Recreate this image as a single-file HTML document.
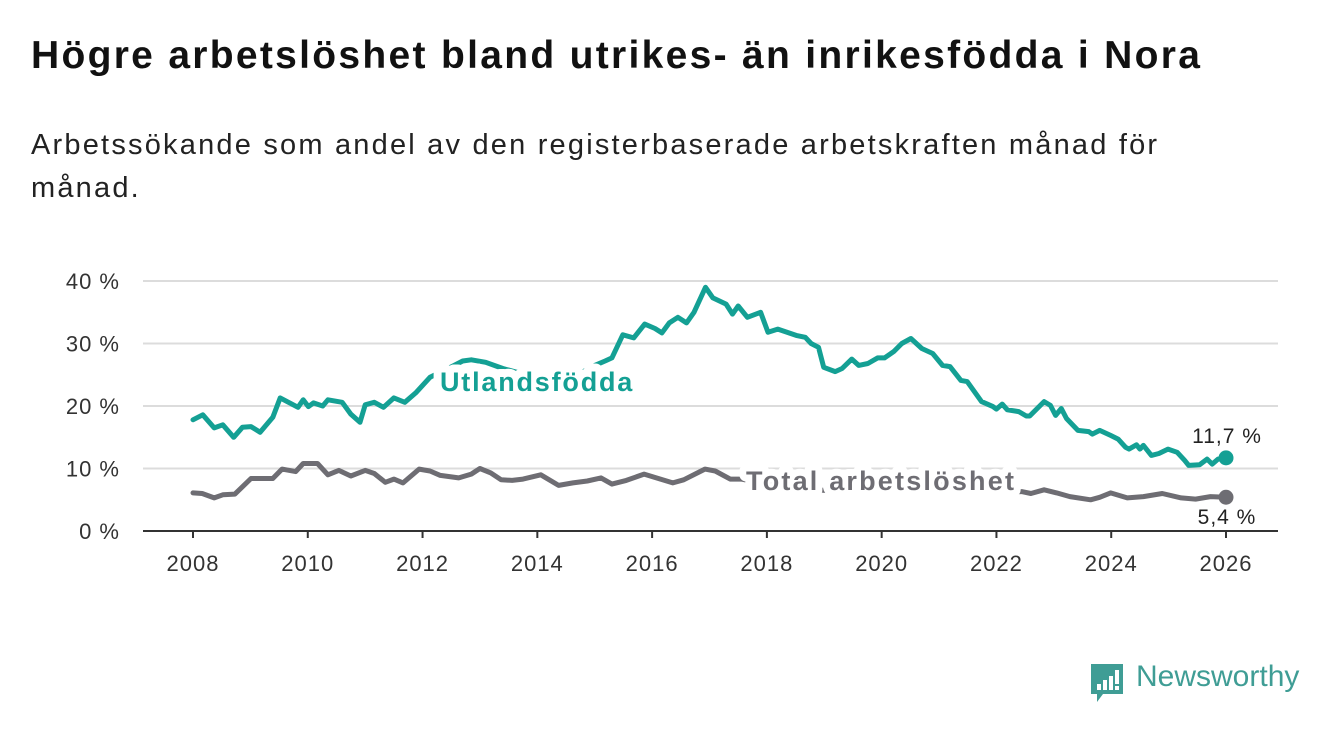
<!DOCTYPE html>
<html><head><meta charset="utf-8"><style>
body{margin:0;background:#fff;width:1340px;height:734px;overflow:hidden;font-family:"Liberation Sans","DejaVu Sans",sans-serif;}
#title{position:absolute;left:31px;top:34px;font-size:39px;letter-spacing:2.3px;font-weight:bold;color:#111;margin:0;white-space:nowrap;}
#sub{position:absolute;left:31px;top:124px;font-size:29px;letter-spacing:2.2px;line-height:43px;color:#222;width:1190px;}
svg{position:absolute;left:0;top:0;}
</style></head><body>
<h1 id="title">Högre arbetslöshet bland utrikes- än inrikesfödda i Nora</h1>
<div id="sub">Arbetssökande som andel av den registerbaserade arbetskraften månad för månad.</div>
<svg id="chart" width="1340" height="734"></svg>
<script>
const yTicks=[0,10,20,30,40];
const yTickLabels=["0 %","10 %","20 %","30 %","40 %"];
const xTicks=[2008,2010,2012,2014,2016,2018,2020,2022,2024,2026];
const utlYears=[2008.0,2008.17,2008.37,2008.52,2008.71,2008.86,2009.01,2009.17,2009.39,2009.52,2009.83,2009.92,2010.01,2010.1,2010.26,2010.35,2010.6,2010.75,2010.91,2011.0,2011.16,2011.32,2011.5,2011.69,2011.88,2012.13,2012.4,2012.7,2012.85,2013.1,2013.4,2013.8,2014.2,2014.7,2015.0,2015.18,2015.3,2015.49,2015.68,2015.87,2016.05,2016.17,2016.3,2016.45,2016.6,2016.73,2016.93,2017.06,2017.29,2017.4,2017.5,2017.66,2017.89,2018.02,2018.19,2018.51,2018.67,2018.77,2018.9,2018.99,2019.19,2019.31,2019.48,2019.6,2019.76,2019.93,2020.05,2020.21,2020.35,2020.51,2020.7,2020.89,2021.06,2021.19,2021.38,2021.49,2021.74,2021.94,2022.0,2022.1,2022.19,2022.39,2022.52,2022.58,2022.71,2022.83,2022.94,2023.03,2023.13,2023.22,2023.42,2023.61,2023.67,2023.8,2023.99,2024.12,2024.25,2024.31,2024.44,2024.5,2024.56,2024.7,2024.83,2024.99,2025.15,2025.28,2025.35,2025.54,2025.67,2025.76,2025.86,2026.0];
const utlValues=[17.8,18.6,16.5,17,15,16.6,16.7,15.8,18.2,21.3,19.8,21,19.9,20.5,20,21,20.6,18.7,17.4,20.2,20.6,19.8,21.3,20.6,22.1,24.6,25.8,27.2,27.4,27,26,25,24,25,26.5,27.2,27.7,31.4,30.9,33.1,32.4,31.7,33.3,34.2,33.3,35,39,37.3,36.3,34.7,36,34.2,35,31.8,32.3,31.3,31,30,29.4,26.2,25.5,26,27.5,26.5,26.8,27.7,27.7,28.7,30,30.8,29.2,28.4,26.5,26.3,24.1,23.9,20.7,19.9,19.5,20.3,19.4,19.1,18.4,18.4,19.6,20.7,20.1,18.5,19.6,18,16.1,15.9,15.5,16.1,15.3,14.7,13.4,13.1,13.8,13.1,13.7,12.1,12.4,13.1,12.6,11.3,10.5,10.6,11.5,10.7,11.5,11.7];
const totYears=[2008.0,2008.16,2008.37,2008.52,2008.73,2009.01,2009.39,2009.55,2009.79,2009.92,2010.17,2010.35,2010.54,2010.75,2011.0,2011.16,2011.35,2011.5,2011.66,2011.94,2012.13,2012.31,2012.63,2012.85,2013.0,2013.19,2013.37,2013.56,2013.75,2014.06,2014.37,2014.62,2014.87,2015.11,2015.3,2015.55,2015.86,2016.11,2016.36,2016.55,2016.92,2017.1,2017.36,2017.55,2018.0,2019.0,2020.0,2021.0,2022.0,2022.44,2022.6,2022.83,2023.05,2023.28,2023.64,2023.8,2023.99,2024.28,2024.56,2024.89,2025.22,2025.47,2025.73,2026.0];
const totValues=[6.1,6.0,5.3,5.8,5.9,8.4,8.4,9.9,9.5,10.8,10.8,9.0,9.7,8.8,9.7,9.2,7.8,8.3,7.7,9.9,9.6,8.9,8.5,9.1,10.0,9.3,8.2,8.1,8.3,9.0,7.3,7.7,8.0,8.5,7.5,8.1,9.1,8.4,7.7,8.2,9.9,9.6,8.3,8.3,7.5,6.5,8.5,7.5,6.2,6.3,6.0,6.6,6.1,5.5,5.0,5.4,6.1,5.3,5.5,6.0,5.3,5.1,5.5,5.4];
const NS="http://www.w3.org/2000/svg";
const svg=document.getElementById('chart');
const X=v=>193+(v-2008)*(1226-193)/18;
const Y=v=>531-v*6.25;
function mk(t,a,p){const e=document.createElementNS(NS,t);for(const k in a)e.setAttribute(k,a[k]);(p||svg).appendChild(e);return e;}
yTicks.forEach((v,i)=>{
  if(v>0){const g=mk('line',{x1:143,x2:1278,y1:Y(v),y2:Y(v),stroke:'#dcdcdc','stroke-width':2});
  
  }
  const t=mk('text',{x:120,y:Y(v)+8,'text-anchor':'end','font-size':22,'letter-spacing':1,fill:'#333'});
  t.textContent=yTickLabels[i];
  
  
});
const ax=mk('line',{x1:143,x2:1278,y1:531,y2:531,stroke:'#333','stroke-width':2});


xTicks.forEach(v=>{
  const tk=mk('line',{x1:X(v),x2:X(v),y1:531,y2:538,stroke:'#333','stroke-width':2});
  
  
  const t=mk('text',{x:X(v),y:571,'text-anchor':'middle','font-size':22,'letter-spacing':1,fill:'#333'});
  t.textContent=v;
  
  
});
function line(xs,ys,col,name){
  const d=xs.map((x,i)=>(i?'L':'M')+X(x).toFixed(1)+','+Y(ys[i]).toFixed(1)).join('');
  const p=mk('path',{d:d,fill:'none',stroke:col,'stroke-width':5,'stroke-linejoin':'round','stroke-linecap':'round'});
  
  
  const c=mk('circle',{cx:X(xs[xs.length-1]),cy:Y(ys[ys.length-1]),r:7.5,fill:col});
  
  
}
line(totYears,totValues,'#6e6d73','total-line');
line(utlYears,utlValues,'#14a094','utlandsfodda-line');
function lab(x,y,txt,col,name,size,w,anchor,ls,sw){
  const t=mk('text',{x:x,y:y,'font-size':size,'font-weight':w,fill:col,stroke:'#fff','stroke-width':sw,'paint-order':'stroke','stroke-linejoin':'round','text-anchor':anchor||'start','letter-spacing':ls});
  t.textContent=txt;
  
  
}
lab(440,391,'Utlandsfödda','#14a094','utlandsfodda-label',27,'bold','start',1.8,16);
lab(746,490,'Total arbetslöshet','#6e6d73','total-label',27,'bold','start',2.2,14);
lab(1227,443,'11,7 %','#222','utlandsfodda-end-value',21,'normal','middle',1,5);
lab(1227,524,'5,4 %','#222','total-end-value',21,'normal','middle',1,5);
</script>
<div style="position:absolute;left:1089px;top:662px;height:40px;">
<svg width="36" height="42" style="position:absolute;left:0;top:0">
<path d="M2,2 H34 V32 H14 L8,40 L8,32 H2 Z" fill="#3f9d95"/>
<rect x="8" y="22" width="4" height="6" fill="#fff"/><rect x="14" y="18" width="4" height="10" fill="#fff"/><rect x="20" y="14" width="4" height="14" fill="#fff"/><rect x="26" y="8" width="4" height="14" fill="#fff"/><rect x="26" y="24" width="4" height="4" fill="#fff"/>
</svg>
<span style="position:absolute;left:47px;top:-2px;font-size:30px;color:#3f9d95;white-space:nowrap;">Newsworthy</span>
</div>
</body></html>
